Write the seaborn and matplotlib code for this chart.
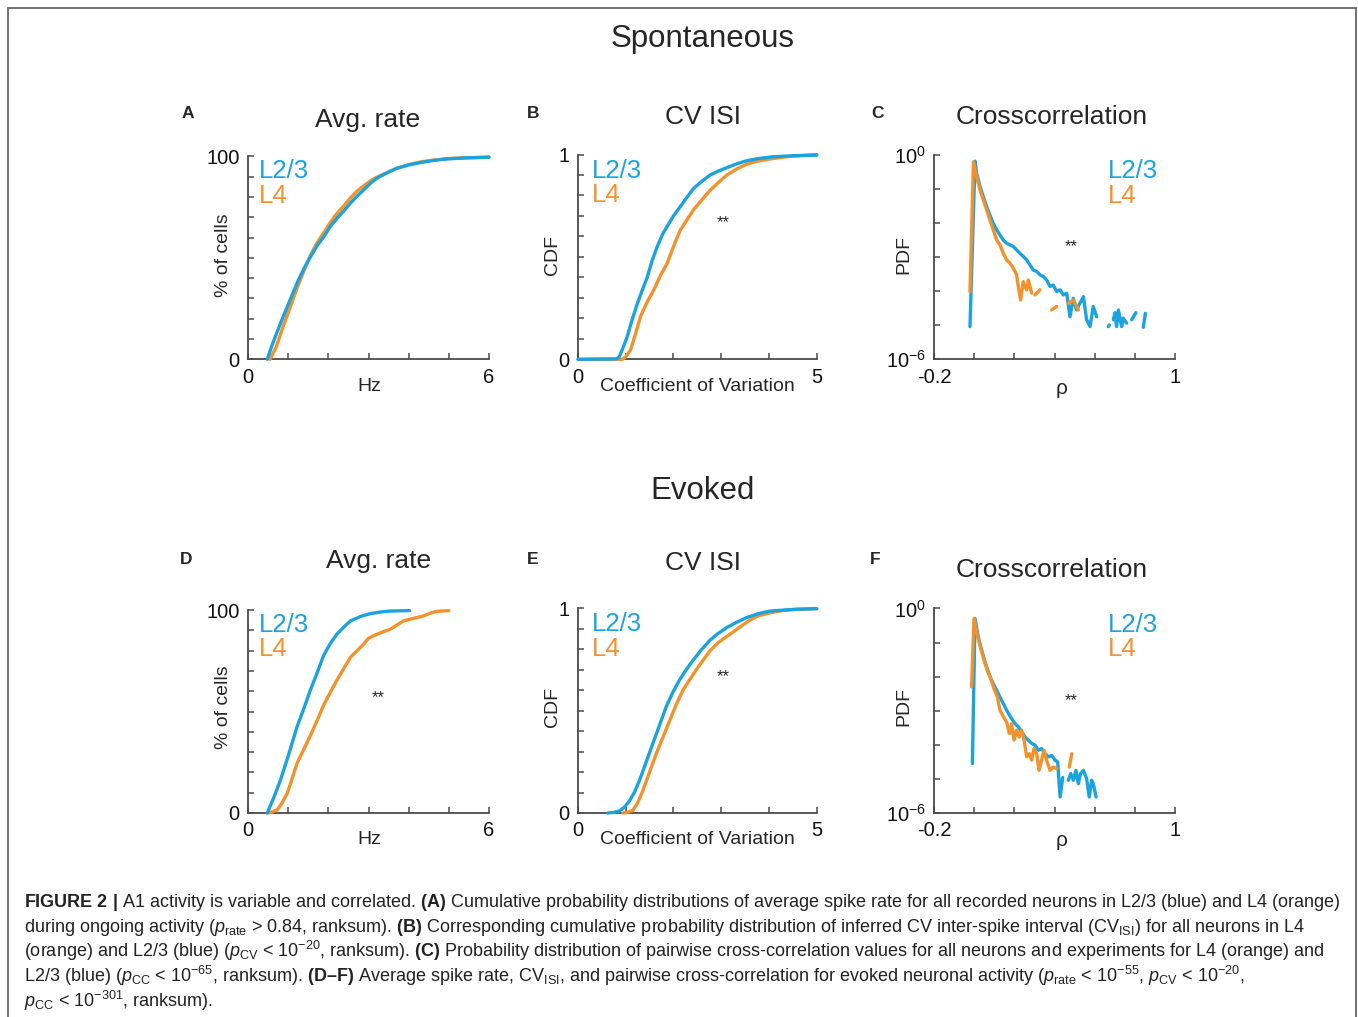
import numpy as np
import pandas as pd
import seaborn as sns
import matplotlib.pyplot as plt
from matplotlib.patches import Rectangle
from matplotlib.ticker import LogLocator, NullFormatter

# ---- values ----
# A: spontaneous, average rate (Hz) vs % of cells
a_l23_x = [0.48, 0.6, 0.81, 1.0, 1.23, 1.4, 1.56, 1.72, 1.89, 2.05, 2.22, 2.4, 2.55, 2.72, 2.88,
           3.05, 3.21, 3.45, 3.71, 4.0, 4.29, 4.6, 4.95, 5.4, 6.0]
a_l23_y = [0, 7, 17.8, 27, 38, 45, 50.7, 56, 60.5, 65.5, 69.6, 73.5, 77, 80.5, 83.5,
           86.8, 89.3, 91.8, 94.2, 95.8, 97, 98, 98.8, 99.3, 99.7]
a_l4_x = [0.55, 0.7, 0.89, 1.05, 1.23, 1.4, 1.56, 1.72, 1.89, 2.05, 2.22, 2.4, 2.55, 2.72, 2.88,
          3.05, 3.21, 3.45, 3.71, 4.0, 4.29, 4.6, 5.0, 5.5, 6.0]
a_l4_y = [0, 6, 17, 25.5, 35.5, 44, 51.5, 57.5, 62.5, 67.5, 72, 76, 79.5, 83, 85.5,
          88, 89.8, 92, 94.2, 96, 97.3, 98.2, 99, 99.4, 99.6]

# B: spontaneous, CV ISI cdf
b_l23_x = [0, 0.8, 0.86, 0.95, 1.03, 1.13, 1.24, 1.35, 1.45, 1.55, 1.66, 1.77, 1.87, 2.0, 2.14,
           2.28, 2.42, 2.6, 2.77, 2.95, 3.12, 3.33, 3.54, 3.8, 4.09, 4.5, 5.0]
b_l23_y = [0, 0.002, 0.01, 0.06, 0.11, 0.19, 0.27, 0.34, 0.40, 0.48, 0.55, 0.61, 0.65, 0.70, 0.745,
           0.79, 0.834, 0.87, 0.90, 0.92, 0.936, 0.955, 0.97, 0.981, 0.989, 0.994, 0.997]
b_l4_x = [0, 0.93, 1.0, 1.10, 1.2, 1.31, 1.45, 1.59, 1.73, 1.87, 2.0, 2.14, 2.28, 2.42, 2.6,
          2.77, 2.95, 3.12, 3.33, 3.54, 3.75, 3.96, 4.4, 5.0]
b_l4_y = [0, 0, 0.012, 0.046, 0.12, 0.21, 0.28, 0.34, 0.41, 0.47, 0.55, 0.63, 0.68, 0.73, 0.78,
          0.826, 0.865, 0.90, 0.93, 0.953, 0.967, 0.976, 0.99, 1.0]

# C: spontaneous, cross-correlation pdf (rho, log10 pdf); nan = gap
c_l23_x = [-0.021, 0.004, 0.012, 0.029, 0.045, 0.062, 0.078, 0.095, 0.112, 0.128, 0.145, 0.161,
           0.178, 0.195, 0.211, 0.228, 0.244, 0.261, 0.277, 0.294, 0.311, 0.327, 0.344, 0.360,
           0.377, 0.393, 0.410, 0.427, 0.443, 0.460, 0.476, 0.493, 0.509, 0.526, 0.543, 0.559,
           0.576, 0.592, 0.609, np.nan, 0.667, 0.672, np.nan, 0.692, 0.700, 0.708, 0.717, 0.733,
           0.741, 0.758, np.nan, 0.783, 0.804, np.nan, 0.841, 0.851]
c_l23_e = [-5.04, -0.18, -0.54, -0.93, -1.22, -1.52, -1.76, -2.01, -2.20, -2.35, -2.50, -2.59,
           -2.64, -2.69, -2.79, -2.89, -2.98, -3.08, -3.23, -3.38, -3.42, -3.52, -3.57, -3.67,
           -3.86, -3.82, -4.01, -3.96, -4.11, -4.06, -4.75, -4.21, -4.55, -4.35, -4.16, -4.84,
           -5.04, -4.45, -4.75, np.nan, -5.04, -4.99, np.nan, -4.84, -4.63, -5.04, -4.55, -5.04,
           -4.79, -4.94, np.nan, -4.84, -4.63, np.nan, -5.06, -4.65]
c_l4_x = [-0.021, -0.004, 0.012, 0.029, 0.045, 0.062, 0.078, 0.095, 0.112, 0.128, 0.145, 0.161,
          0.178, 0.195, 0.211, 0.219, 0.231, 0.244, 0.261, 0.269, 0.286, np.nan, 0.302, 0.327,
          np.nan, 0.385, 0.410, np.nan, 0.468, 0.493, 0.518]
c_l4_e = [-4.01, -0.20, -0.64, -1.03, -1.32, -1.61, -1.91, -2.20, -2.50, -2.64, -2.89, -3.08,
          -3.18, -3.33, -3.52, -3.86, -4.26, -3.72, -3.96, -3.67, -4.06, np.nan, -4.11, -3.96,
          np.nan, -4.55, -4.45, np.nan, -4.35, -4.26, -4.55]

# D: evoked, average rate
d_l23_x = [0.48, 0.65, 0.81, 1.0, 1.22, 1.4, 1.55, 1.72, 1.88, 2.05, 2.21, 2.38, 2.55, 2.8, 3.04,
           3.3, 3.54, 4.02]
d_l23_y = [0, 8, 16.3, 28, 42.4, 52, 60.4, 69, 77.5, 83.5, 88, 91.5, 94.6, 96.8, 98.2,
           99, 99.5, 99.7]
d_l4_x = [0.48, 0.6, 0.73, 0.85, 0.98, 1.1, 1.22, 1.38, 1.55, 1.72, 1.88, 2.05, 2.21, 2.38, 2.55,
          2.72, 2.88, 3.0, 3.12, 3.33, 3.54, 3.7, 3.87, 4.1, 4.36, 4.55, 4.69, 5.0]
d_l4_y = [0, 0.5, 1.6, 5, 9.8, 17, 24.5, 31, 38, 45.5, 53, 59.5, 65.3, 71, 76.7,
          80, 83.2, 86, 87.3, 89, 90.5, 92.5, 94.6, 95.8, 97, 98.5, 99.3, 99.7]

# E: evoked, CV ISI cdf
e_l23_x = [0.62, 0.75, 0.87, 0.98, 1.08, 1.18, 1.29, 1.43, 1.57, 1.71, 1.85, 1.99, 2.13, 2.27,
           2.41, 2.58, 2.76, 2.93, 3.11, 3.32, 3.53, 3.77, 4.02, 4.5, 5.0]
e_l23_y = [0, 0.003, 0.01, 0.03, 0.06, 0.10, 0.16, 0.25, 0.34, 0.43, 0.52, 0.59, 0.65, 0.70,
           0.745, 0.795, 0.842, 0.875, 0.904, 0.93, 0.953, 0.972, 0.985, 0.993, 0.997]
e_l4_x = [0.94, 1.05, 1.15, 1.25, 1.36, 1.5, 1.64, 1.78, 1.92, 2.06, 2.2, 2.34, 2.48, 2.62,
          2.76, 2.93, 3.11, 3.32, 3.53, 3.67, 3.81, 4.05, 4.3, 4.6, 5.0]
e_l4_y = [0, 0.004, 0.013, 0.05, 0.11, 0.20, 0.29, 0.37, 0.45, 0.53, 0.60, 0.65, 0.70, 0.745,
          0.79, 0.83, 0.86, 0.895, 0.93, 0.95, 0.964, 0.978, 0.988, 0.994, 0.997]

# F: evoked, cross-correlation pdf
f_l23_x = [-0.009, 0.004, 0.020, 0.037, 0.054, 0.070, 0.087, 0.103, 0.120, 0.136, 0.153, 0.170,
           0.186, 0.203, 0.219, 0.236, 0.253, 0.269, 0.286, 0.302, 0.319, 0.335, 0.352, 0.369,
           0.385, 0.402, 0.415, 0.427, 0.440, np.nan, 0.468, 0.480, 0.493, 0.506, 0.518, 0.529,
           0.543, 0.559, 0.572, 0.584, 0.592, 0.606]
f_l23_e = [-4.55, -0.29, -0.83, -1.22, -1.57, -1.86, -2.11, -2.30, -2.50, -2.69, -2.89, -3.08,
           -3.23, -3.38, -3.47, -3.62, -3.77, -3.86, -3.96, -4.01, -4.16, -4.11, -4.26, -4.35,
           -4.31, -4.45, -4.50, -5.53, -4.96, np.nan, -5.04, -4.84, -5.04, -4.75, -5.14, -4.84,
           -4.75, -4.99, -5.53, -5.04, -5.14, -5.53]
f_l4_x = [-0.013, -0.001, 0.015, 0.032, 0.049, 0.065, 0.082, 0.098, 0.115, 0.128, 0.145, 0.161,
          0.175, 0.186, 0.198, 0.211, 0.224, 0.236, 0.248, 0.261, 0.274, 0.286, 0.297, 0.311,
          0.322, 0.335, 0.347, 0.360, 0.377, 0.393, 0.410, np.nan, 0.473, 0.485]
f_l4_e = [-2.30, -0.29, -0.78, -1.17, -1.52, -1.81, -2.05, -2.35, -2.59, -2.98, -3.18, -3.33,
          -3.67, -3.38, -3.86, -3.57, -3.77, -3.57, -3.86, -4.35, -4.26, -4.45, -4.11, -4.26,
          -4.75, -4.45, -4.16, -4.45, -4.75, -4.65, -4.70, np.nan, -4.65, -4.26]

caption_lines = [
    r"$\mathbf{FIGURE\ 2\ |}$ A1 activity is variable and correlated. $\mathbf{(A)}$ Cumulative probability distributions of average spike rate for all recorded neurons in L2/3 (blue) and L4 (orange)",
    r"during ongoing activity ($p_{\mathrm{rate}}$ > 0.84, ranksum). $\mathbf{(B)}$ Corresponding cumulative probability distribution of inferred CV inter-spike interval (CV$_{\mathrm{ISI}}$) for all neurons in L4",
    r"(orange) and L2/3 (blue) ($p_{\mathrm{CV}}$ < 10$^{-20}$, ranksum). $\mathbf{(C)}$ Probability distribution of pairwise cross-correlation values for all neurons and experiments for L4 (orange) and",
    r"L2/3 (blue) ($p_{\mathrm{CC}}$ < 10$^{-65}$, ranksum). $\mathbf{(D–F)}$ Average spike rate, CV$_{\mathrm{ISI}}$, and pairwise cross-correlation for evoked neuronal activity ($p_{\mathrm{rate}}$ < 10$^{-55}$, $p_{\mathrm{CV}}$ < 10$^{-20}$,",
    r"$p_{\mathrm{CC}}$ < 10$^{-301}$, ranksum).",
]

BLUE = '#1ba3df'
ORANGE = '#f3922b'
AXC = '#4a4a4a'

sns.set_style('ticks')
plt.rcParams['font.family'] = ['Liberation Sans', 'DejaVu Sans']
plt.rcParams['mathtext.fontset'] = 'custom'
plt.rcParams['mathtext.rm'] = 'Liberation Sans'
plt.rcParams['mathtext.it'] = 'Liberation Sans:italic'
plt.rcParams['mathtext.bf'] = 'Liberation Sans:bold'

W, H = 1358, 1017
fig = plt.figure(figsize=(W / 100, H / 100), dpi=100)


def fx(px):
    return px / W


def fy(py):
    return 1 - py / H


def add_ax(l, t, r, b):
    return fig.add_axes([fx(l), fy(b), (r - l) / W, (b - t) / H])


def curve(ax, xs, ys, color):
    df = pd.DataFrame({'x': xs, 'y': ys})
    df['seg'] = df['x'].isna().cumsum()
    df = df.dropna()
    sns.lineplot(data=df, x='x', y='y', units='seg', estimator=None, sort=False,
                 color=color, lw=2.4, ax=ax, legend=False, clip_on=False, zorder=3)


def style(ax, xlim, xticks, xlabs, ylim, yticks, ylabs):
    ax.set_xlim(xlim)
    ax.set_ylim(ylim)
    ax.set_xticks(xticks)
    ax.set_xticklabels(xlabs)
    ax.set_yticks(yticks)
    ax.set_yticklabels(ylabs)
    ax.set_xlabel('')
    ax.set_ylabel('')
    sns.despine(ax=ax)
    for s in ['left', 'bottom']:
        ax.spines[s].set_color(AXC)
        ax.spines[s].set_linewidth(1.3)
    ax.tick_params(direction='in', length=4, width=1.1, color=AXC, labelsize=14.5,
                   pad=6, labelcolor='#111111')
    ax.patch.set_alpha(0)


def legend_text(ax, x, y1, y2):
    ax.text(x, y1, 'L2/3', color=BLUE, fontsize=18.5, transform=ax.transAxes, va='center')
    ax.text(x, y2, 'L4', color=ORANGE, fontsize=18.5, transform=ax.transAxes, va='center')


def stars(ax, x, y):
    ax.text(x, y, '**', fontsize=12, transform=ax.transAxes, ha='center', va='center')


rate_ticks = list(range(0, 7))
rate_labs = ['0', '', '', '', '', '', '6']
pct_ticks = list(range(0, 101, 10))
pct_labs = ['0'] + [''] * 9 + ['100']
cv_ticks = list(range(0, 6))
cv_labs = ['0', '', '', '', '', '5']
cdf_ticks = list(np.round(np.arange(0, 1.01, 0.1), 1))
cdf_labs = ['0'] + [''] * 9 + ['1']
rho_ticks = [-0.2, 0, 0.2, 0.4, 0.6, 0.8, 1.0]
rho_labs = ['-0.2', '', '', '', '', '', '1']
pdf_ticks = [10.0 ** k for k in range(-6, 1)]
pdf_labs = [r'$10^{-6}$', '', '', '', '', '', r'$10^{0}$']

rows = [
    dict(top=155, bot=359.3, rate=(a_l23_x, a_l23_y, a_l4_x, a_l4_y),
         cv=(b_l23_x, b_l23_y, b_l4_x, b_l4_y),
         cc=(c_l23_x, c_l23_e, c_l4_x, c_l4_e)),
    dict(top=608.5, bot=813, rate=(d_l23_x, d_l23_y, d_l4_x, d_l4_y),
         cv=(e_l23_x, e_l23_y, e_l4_x, e_l4_y),
         cc=(f_l23_x, f_l23_e, f_l4_x, f_l4_e)),
]

for i, row in enumerate(rows):
    t, b = row['top'], row['bot']
    # rate cdf
    ax = add_ax(248, t + 1.5, 489, b)
    bx, by, ox, oy = row['rate']
    curve(ax, ox, oy, ORANGE)
    curve(ax, bx, by, BLUE)
    style(ax, (0, 6), rate_ticks, rate_labs, (0, 100), pct_ticks, pct_labs)
    legend_text(ax, 0.046, 0.928, 0.806)
    if i == 1:
        stars(ax, 0.539, 0.57)

    # cv cdf
    ax = add_ax(578, t - 0.5, 816.7, b)
    bx, by, ox, oy = row['cv']
    curve(ax, ox, oy, ORANGE)
    curve(ax, bx, by, BLUE)
    style(ax, (0, 5), cv_ticks, cv_labs, (0, 1), cdf_ticks, cdf_labs)
    legend_text(ax, 0.058, 0.92, 0.80)
    stars(ax, 0.609, 0.665)

    # cross-correlation pdf
    ax = add_ax(934, t, 1175.3, b)
    bx, be, ox, oe = row['cc']
    curve(ax, bx, [10.0 ** v for v in be], BLUE)
    curve(ax, ox, [10.0 ** v for v in oe], ORANGE)
    ax.set_yscale('log')
    style(ax, (-0.2, 1.0), rho_ticks, rho_labs, (1e-6, 1e0), pdf_ticks, pdf_labs)
    ax.yaxis.set_minor_locator(LogLocator(base=10, subs=np.arange(2, 10)))
    ax.yaxis.set_minor_formatter(NullFormatter())
    ax.tick_params(axis='y', which='minor', direction='in', length=2.5, width=0.8, color=AXC)
    legend_text(ax, 0.722, 0.92, 0.80)
    stars(ax, 0.568, 0.55)

# section headers and panel titles
fig.text(fx(703), fy(39), 'Spontaneous', fontsize=22.5, ha='center', va='center')
fig.text(fx(703), fy(491), 'Evoked', fontsize=22.5, ha='center', va='center')

titles = [('Avg. rate', 368, 120), ('CV ISI', 703, 117), ('Crosscorrelation', 1052, 117),
          ('Avg. rate', 379, 561), ('CV ISI', 703, 563), ('Crosscorrelation', 1052, 570)]
for s, x, y in titles:
    fig.text(fx(x), fy(y), s, fontsize=19, ha='center', va='center')

letters = [('A', 188, 114), ('B', 533, 114), ('C', 877, 114),
           ('D', 186, 560), ('E', 533, 560), ('F', 875, 560)]
for s, x, y in letters:
    fig.text(fx(x), fy(y), s, fontsize=12.5, fontweight='bold', ha='center', va='center')

# axis labels
for dy in [0, 452]:
    fig.text(fx(223), fy(255 + dy), '% of cells', fontsize=14, rotation=90, ha='center', va='center')
    fig.text(fx(553), fy(255 + dy), 'CDF', fontsize=14, rotation=90, ha='center', va='center')
    fig.text(fx(904), fy(255 + dy), 'PDF', fontsize=14, rotation=90, ha='center', va='center')
    fig.text(fx(369), fy(387 + dy), 'Hz', fontsize=14, ha='center', va='center')
    fig.text(fx(697), fy(387 + dy), 'Coefficient of Variation', fontsize=14, ha='center', va='center')
    fig.text(fx(1062), fy(388 + dy), 'ρ', fontsize=15, ha='center', va='center')

# frame around the figure
fig.add_artist(Rectangle((fx(8), -0.05), (1356 - 8) / W, fy(8) + 0.05, transform=fig.transFigure,
                         fill=False, edgecolor='#666666', lw=1.3, clip_on=False))

# caption, sized so the first line spans the frame width
cap_base = [907, 932, 957, 982, 1007]
texts = [fig.text(fx(24), fy(y), s, fontsize=10, va='baseline', color='#222222')
         for s, y in zip(caption_lines, cap_base)]
renderer = fig.canvas.get_renderer()
w0 = texts[0].get_window_extent(renderer).width
for t in texts:
    t.set_fontsize(10 * 1314 / w0)

fig.savefig('out.png', dpi=100)
plt.close(fig)
